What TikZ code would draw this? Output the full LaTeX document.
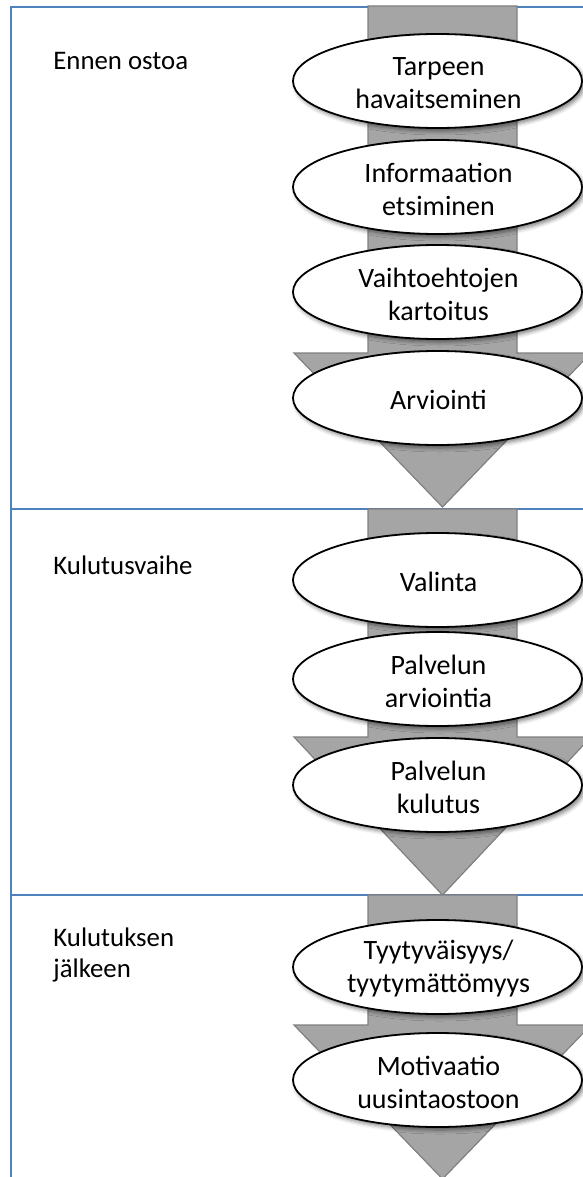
\documentclass[tikz,border=0pt]{standalone}
\usepackage{fontspec}
\setmainfont{Carlito}
\usetikzlibrary{shapes.geometric,shadows.blur}
\definecolor{frameblue}{RGB}{79,129,189}
\definecolor{arrowfill}{RGB}{165,165,165}
\definecolor{arrowline}{RGB}{128,128,128}
% block arrow down the middle: #1 shaft top, #2 head top, #3 tip
\newcommand\flowarrow[3]{%
  \draw[arrowbody] (368,#1) -- (517,#1) -- (517,#2) -- (591,#2) -- (442.5,#3)
    -- (294,#2) -- (368,#2) -- cycle;}
\begin{document}
\begin{tikzpicture}[x=0.5pt,y=-0.5pt,
  frameline/.style={draw=frameblue,line width=1pt,line join=miter},
  arrowbody/.style={fill=arrowfill,draw=arrowline,line width=0.6pt,line join=miter},
  stage/.style={ellipse,draw=black,line width=0.9pt,fill=white,
    minimum width=144.5pt,minimum height=47pt,inner sep=0pt,
    blur shadow={shadow xshift=1.2pt,shadow yshift=-1.5pt,
      shadow blur radius=2pt,shadow opacity=50}},
  stagetext/.style={align=center,font=\fontsize{14}{16.5}\selectfont,
    inner sep=0pt,yshift=-1pt,xshift=0.5pt},
  phase/.style={anchor=west,align=left,font=\fontsize{13.4}{15.6}\selectfont,
    inner sep=0pt}]

\useasboundingbox (0,0) rectangle (583,1177);
\clip (0,0) rectangle (583,1177);

% frame and phase dividers
\coordinate (fbl) at (11,1180);
\coordinate (ftl) at (11,7);
\coordinate (ftr) at (583,7);
\coordinate (d1l) at (11,509);
\coordinate (d1r) at (583,509);
\coordinate (d2l) at (11,895);
\coordinate (d2r) at (583,895);
\draw[frameline] (fbl) -- (ftl) -- (ftr);
\draw[frameline] (d1l) -- (d1r);
\draw[frameline] (d2l) -- (d2r);

% phase labels
\node[phase] (p1) at (53,61) {Ennen ostoa};
\node[phase] (p2) at (53,565) {Kulutusvaihe};
\node[phase] (p3) at (53,955) {Kulutuksen\\jälkeen};

% flow arrows
\flowarrow{6}{353}{507}
\flowarrow{509}{737}{895}
\flowarrow{895}{1025}{1179}

% stages
\node[stage] (e1) at (437.5,81) {};
\node[stagetext] (t1) at (e1.center) {Tarpeen\\havaitseminen};
\node[stage] (e2) at (437.5,187) {};
\node[stagetext] (t2) at (e2.center) {Informaation\\etsiminen};
\node[stage] (e3) at (437.5,292) {};
\node[stagetext] (t3) at (e3.center) {Vaihtoehtojen\\kartoitus};
\node[stage] (e4) at (437.5,398) {};
\node[stagetext] (t4) at (e4.center) {Arviointi};

\node[stage] (e5) at (437.5,580) {};
\node[stagetext] (t5) at (e5.center) {Valinta};
\node[stage] (e6) at (437.5,679) {};
\node[stagetext] (t6) at (e6.center) {Palvelun\\arviointia};
\node[stage] (e7) at (437.5,785) {};
\node[stagetext] (t7) at (e7.center) {Palvelun\\kulutus};

\node[stage] (e8) at (437.5,967) {};
\node[stagetext] (t8) at (e8.center) {Tyytyväisyys/\\tyytymättömyys};
\node[stage] (e9) at (437.5,1080) {};
\node[stagetext] (t9) at (e9.center) {Motivaatio\\uusintaostoon};
\end{tikzpicture}
\end{document}
